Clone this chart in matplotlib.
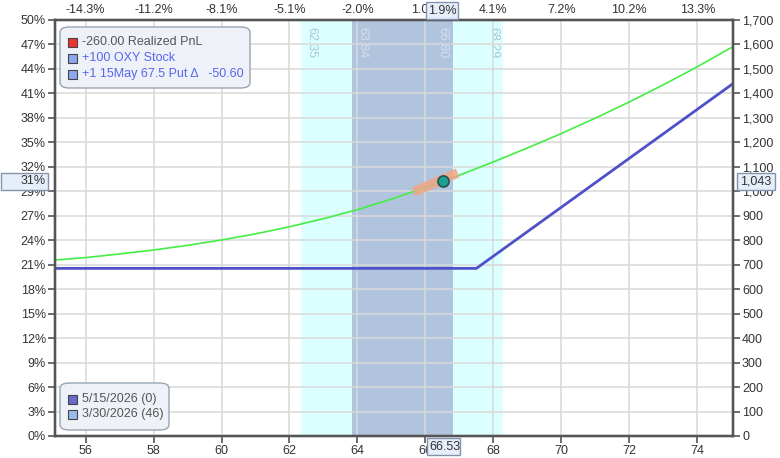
import matplotlib.pyplot as plt
from matplotlib.patches import FancyBboxPatch, Rectangle

# price grid and the two P&L curves
prices = [55.1, 56, 57, 58, 59, 60, 61, 62, 63, 64, 65, 66, 67, 68, 69, 70, 71, 72, 73, 74, 75.05]
pnl_now = [719, 729, 744, 760, 779, 801, 826, 855, 888, 925, 968, 1016, 1066, 1120, 1177, 1236,
           1299, 1365, 1435, 1509, 1591]
exp_prices = [55.1, 67.5, 75.05]
pnl_exp = [685, 685, 1440]

cur_price = 66.53
cur_pnl = 1043
tangent_x = [65.65, 66.95]
tangent_y = [997, 1075]

inner_band = (63.84, 66.80)
outer_band = (62.35, 68.29)

xticks = [56, 58, 60, 62, 64, 66, 68, 70, 72, 74]
top_labels = ['-14.3%', '-11.2%', '-8.1%', '-5.1%', '-2.0%', '1.0%', '4.1%', '7.2%', '10.2%', '13.3%']
yticks = list(range(0, 1701, 100))
left_labels = ['0%', '3%', '6%', '9%', '12%', '15%', '18%', '21%', '24%', '27%', '29%', '32%',
               '35%', '38%', '41%', '44%', '47%', '50%']

legend_top = [('-260.00 Realized PnL', '#ee3333', '#555555'),
              ('+100 OXY Stock', '#8aa8ee', '#5566ee'),
              ('+1 15May 67.5 Put \u0394   -50.60', '#8aa8ee', '#5566ee')]
legend_bottom = [('5/15/2026 (0)', '#6a6acc', '#555555'),
                 ('3/30/2026 (46)', '#9abbee', '#555555')]

plt.rcParams['font.family'] = ['Liberation Sans', 'DejaVu Sans']
W, H = 780, 458
fig = plt.figure(figsize=(W / 100, H / 100), dpi=100)
fig.patch.set_facecolor('white')


def fx(px):
    return px / W


def fy(py):
    return 1 - py / H


ax = fig.add_axes([fx(55), fy(436), fx(733) - fx(55), fy(20) - fy(436)])
ax.set_xlim(55.1, 75.05)
ax.set_ylim(0, 1700)
ax.set_axisbelow(False)

ax.axvspan(*outer_band, color='#dcffff', lw=0, zorder=0)
ax.axvspan(*inner_band, color='#b0c4de', lw=0, zorder=0)
for v, ha, col in [(outer_band[0], 'left', '#a9c6d6'), (inner_band[0], 'left', '#d4dfec'),
                   (inner_band[1], 'right', '#d4dfec'), (outer_band[1], 'right', '#a9c6d6')]:
    off = 0.12 if ha == 'left' else -0.12
    ax.text(v + off, 1670, '%.2f' % v, rotation=-90, ha=ha, va='top', fontsize=9, color=col, zorder=1)

ax.grid(True, color='#d9d9d9', lw=1.1)
ax.plot(exp_prices, pnl_exp, color='#5050c8', lw=2, zorder=4)
ax.plot(prices, pnl_now, color='#44ee44', lw=1.2, zorder=5)
ax.plot(tangent_x, tangent_y, color='#f0a585', lw=7, alpha=0.85, solid_capstyle='butt', zorder=6)
ax.plot([cur_price], [cur_pnl], 'o', ms=8, mfc='#1f9f90', mec='#24505a', mew=1.2, zorder=7)

ax.set_xticks(xticks)
ax.set_xticklabels([str(t) for t in xticks])
ax.set_yticks(yticks)
ax.set_yticklabels(left_labels)

ax2 = ax.twinx()
ax2.set_ylim(0, 1700)
ax2.set_yticks(yticks)
ax2.set_yticklabels(['{:,}'.format(v) for v in yticks])

ax3 = ax.twiny()
ax3.set_xlim(55.1, 75.05)
ax3.set_xticks(xticks)
ax3.set_xticklabels(top_labels)

for a in (ax, ax2, ax3):
    for s in a.spines.values():
        s.set_color('#555555')
        s.set_linewidth(1.6)
    a.tick_params(colors='#555555', labelcolor='#333333', labelsize=9, length=5, width=1.2, pad=1.5)
ax3.tick_params(length=0, pad=3)


# current value markers on the axes
def value_box(x0, y0, x1, y1, label, tx, ha):
    fig.patches.append(Rectangle((fx(x0), fy(y1)), fx(x1) - fx(x0), fy(y0) - fy(y1),
                                 transform=fig.transFigure, fc='#e6eef9', ec='#8494ac', lw=1, zorder=10))
    fig.text(fx(tx), fy((y0 + y1) / 2), label, fontsize=9, color='#333333', va='center', ha=ha, zorder=11)


value_box(1, 173, 48, 190, '31%', 46, 'right')
value_box(737, 173, 775, 190, '1,043', 740, 'left')
value_box(427, 438, 460, 455, '66.53', 429, 'left')
value_box(426, 2, 458, 19, '1.9%', 428, 'left')


def draw_legend(x0, y0, x1, y1, rows, row_y):
    fig.patches.append(FancyBboxPatch((fx(x0), fy(y1)), fx(x1) - fx(x0), fy(y0) - fy(y1),
                                      boxstyle='round,pad=0,rounding_size=0.012',
                                      transform=fig.transFigure, fc='#eef2f8', ec='#98a4b4',
                                      lw=1, zorder=10))
    for (label, sq, tc), ry in zip(rows, row_y):
        fig.patches.append(Rectangle((fx(68), fy(ry + 4.5)), fx(9), 9 / H, transform=fig.transFigure,
                                     fc=sq, ec='#444444', lw=0.8, zorder=11))
        fig.text(fx(82), fy(ry), label, fontsize=9, color=tc, va='center', ha='left', zorder=12)


draw_legend(60, 27, 250, 88, legend_top, [42, 58, 74])
draw_legend(60, 383, 169, 430, legend_bottom, [399, 414])

fig.savefig('out.png', dpi=100)
